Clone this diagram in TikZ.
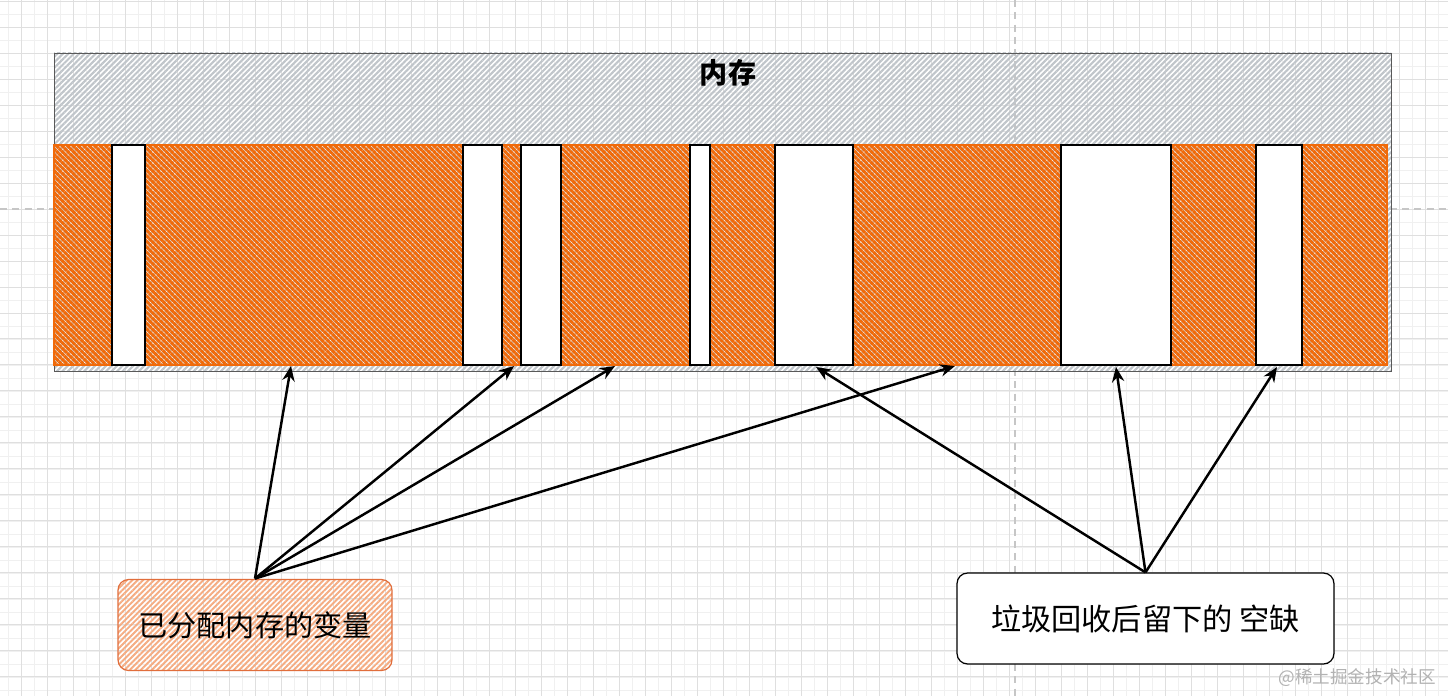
\documentclass[tikz,border=0pt]{standalone}
\usepackage{fontspec}
\setmainfont{Noto Sans CJK SC}
\usepackage{xcolor}
\usetikzlibrary{arrows.meta, positioning, patterns.meta}

\definecolor{memline}{RGB}{192,197,202}
\definecolor{useline}{RGB}{240,106,10}
\definecolor{boxline}{RGB}{245,172,130}
\definecolor{boxedge}{RGB}{225,110,60}

\begin{document}
\begin{tikzpicture}[
  x=0.02cm, y=-0.02cm,
  >={Stealth[length=8.5pt, width=7pt]},
  mem/.style={draw=gray!70!black, line width=0.5pt, pattern={Lines[angle=45, distance=2.2pt, line width=1.2pt]}, pattern color=memline},
  used/.style={draw=useline, line width=0.6pt, pattern={Lines[angle=-45, distance=2.2pt, line width=1.7pt]}, pattern color=useline},
  hole/.style={draw=black, fill=white, line width=0.7pt},
  lbl/.style={rectangle, rounded corners=6pt, minimum height=1.82cm, font=\fontsize{16.6}{19}\selectfont},
  ptr/.style={->, line width=1.4pt}
]
  \useasboundingbox (0,0) rectangle (1448,696);
  \fill[white] (0,0) rectangle (1448,696);
  \draw[gray!12, line width=0.4pt, shift={(8.7,1)}, step=0.26cm] (-26,-26) grid (1470,720);
  \draw[gray!25, line width=0.5pt, shift={(21.7,1)}, step=0.52cm] (-52,-52) grid (1500,750);
  \draw[gray!45, line width=0.6pt, dash pattern=on 4pt off 3pt] (0,209) -- (1448,209);
  \draw[gray!45, line width=0.6pt, dash pattern=on 4pt off 3pt] (1015,0) -- (1015,696);

  \draw[mem] (54,53) rectangle (1391,371);
  \node[font=\fontsize{16}{19}\selectfont\bfseries] (title) at (728,73) {内存};

  \draw[used] (54,145) rectangle (1387,365);
  \draw[hole] (112,145) rectangle (145,365);
  \draw[hole] (463,145) rectangle (502,365);
  \draw[hole] (521,145) rectangle (561,365);
  \draw[hole] (690,145) rectangle (710,365);
  \draw[hole] (775,145) rectangle (853,365);
  \draw[hole] (1061,145) rectangle (1171,365);
  \draw[hole] (1256,145) rectangle (1302,365);

  \coordinate (u1) at (291,366);
  \coordinate (u2) at (514,366);
  \coordinate (u3) at (615,366);
  \coordinate (u4) at (955,366);
  \coordinate (h1) at (816,367);
  \coordinate (h2) at (1116,367);
  \coordinate (h3) at (1277,367);

  \node[lbl, draw=boxedge, line width=0.7pt, minimum width=5.48cm, pattern={Lines[angle=45, distance=2.2pt, line width=1.1pt]}, pattern color=boxline] (alloc) at (255,625) {};
  \node[font=\fontsize{16.6}{19}\selectfont] (allocText) at (alloc.center) {已分配内存的变量};
  \node[lbl, draw=black, fill=white, line width=0.7pt, minimum width=7.54cm, font=\fontsize{17.2}{19}\selectfont] (gaps) at (1145.5,618.5) {垃圾回收后留下的 空缺};

  \draw[ptr] (alloc.north) -- (u1);
  \draw[ptr] (alloc.north) -- (u2);
  \draw[ptr] (alloc.north) -- (u3);
  \draw[ptr] (alloc.north) -- (u4);
  \draw[ptr] (gaps.north) -- (h1);
  \draw[ptr] (gaps.north) -- (h2);
  \draw[ptr] (gaps.north) -- (h3);

  \node[text=gray!60, font=\fontsize{10}{12}\selectfont, anchor=east] (mark) at (1442,678) {@稀土掘金技术社区};
\end{tikzpicture}
\end{document}
